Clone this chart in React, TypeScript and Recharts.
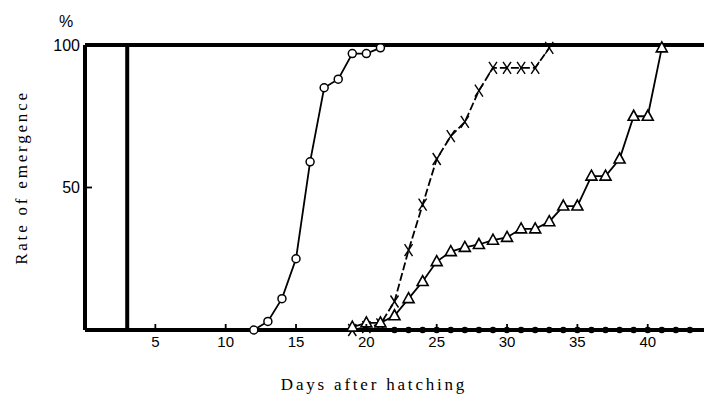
import React from "react";
import { LineChart, Line, XAxis, YAxis, ReferenceLine } from "recharts";

// ---- data ----
const xTicks = [5, 10, 15, 20, 25, 30, 35, 40];
const yTicks = [50, 100];

const circleDays = [12, 13, 14, 15, 16, 17, 18, 19, 20, 21];
const circleRate = [0, 3, 11, 25, 59, 85, 88, 97, 97, 99];

const crossDays = [19, 20, 21, 22, 23, 24, 25, 26, 27, 28, 29, 30, 31, 32, 33];
const crossRate = [0, 1, 2, 10, 28, 44, 60, 68, 73, 84, 92, 92, 92, 92, 99];

const triDays = [19, 20, 21, 22, 23, 24, 25, 26, 27, 28, 29, 30, 31, 32, 33, 34, 35, 36, 37, 38, 39, 40, 41];
const triRate = [1, 2.5, 2.5, 5, 11, 17, 24, 27.5, 29, 30, 31.5, 32.5, 35.5, 35.5, 38, 43.5, 43.5, 54, 54, 60, 75, 75, 99];

const dotDays = [22, 23, 24, 25, 26, 27, 28, 29, 30, 31, 32, 33, 34, 35, 36, 37, 38, 39, 40, 41, 42, 43];
const dotRate = dotDays.map(() => 0);

const toData = (days: number[], vals: number[]) => days.map((d, i) => ({ day: d, v: vals[i] }));
const circleData = toData(circleDays, circleRate);
const crossData = toData(crossDays, crossRate);
const triData = toData(triDays, triRate);
const dotData = toData(dotDays, dotRate);

const SANS = "'Liberation Sans', Arial, sans-serif";
const SERIF = "'Liberation Serif', 'DejaVu Serif', serif";

const CircleDot = (p: any) => {
  if (p.cx == null || p.cy == null) return null;
  return <circle cx={p.cx} cy={p.cy} r={4} fill="#fff" stroke="#000" strokeWidth={1.5} />;
};

const CrossDot = (p: any) => {
  if (p.cx == null || p.cy == null) return null;
  const { cx, cy } = p;
  return (
    <g stroke="#000" strokeWidth={1.4} fill="none">
      <line x1={cx - 4} y1={cy - 6} x2={cx + 4} y2={cy + 6} />
      <line x1={cx + 4} y1={cy - 6} x2={cx - 4} y2={cy + 6} />
    </g>
  );
};

const TriDot = (p: any) => {
  if (p.cx == null || p.cy == null) return null;
  const { cx, cy } = p;
  const pts = `${cx},${cy - 6} ${cx + 5.5},${cy + 4} ${cx - 5.5},${cy + 4}`;
  return <polygon points={pts} fill="#fff" stroke="#000" strokeWidth={1.6} strokeLinejoin="miter" />;
};

const BlackDot = (p: any) => {
  if (p.cx == null || p.cy == null) return null;
  return <circle cx={p.cx} cy={p.cy} r={3.2} fill="#000" stroke="none" />;
};

const XTick = (p: any) => {
  const { x, y, payload } = p;
  return (
    <g>
      <line x1={x} x2={x} y1={y} y2={y - 6} stroke="#000" strokeWidth={1.8} />
      <text x={x} y={y + 6} dy="0.71em" textAnchor="middle" fontFamily={SANS} fontSize={15} fill="#000">
        {payload.value}
      </text>
    </g>
  );
};

const YTick = (p: any) => {
  const { x, y, payload } = p;
  return (
    <g>
      {payload.value === 50 && <line x1={x} x2={x + 7} y1={y} y2={y} stroke="#000" strokeWidth={1.8} />}
      <text x={x - 5} y={y} dy="0.36em" textAnchor="end" fontFamily={SANS} fontSize={16} fill="#000">
        {payload.value}
      </text>
      {payload.value === 100 && (
        <text x={x - 19} y={y - 18} textAnchor="middle" fontFamily={SANS} fontSize={16} fill="#000">
          %
        </text>
      )}
    </g>
  );
};

const YLabel = (p: any) => {
  const vb = p.viewBox || {};
  const cx = 21;
  const cy = (vb.y ?? 45) + (vb.height ?? 285) / 2 - 10;
  return (
    <text
      x={cx}
      y={cy}
      transform={`rotate(-90, ${cx}, ${cy})`}
      textAnchor="middle"
      dominantBaseline="central"
      fontFamily={SERIF}
      fontSize={17}
      letterSpacing={2.8}
      fill="#000"
    >
      Rate of emergence
    </text>
  );
};

const XLabel = (p: any) => {
  const vb = p.viewBox || {};
  return (
    <text
      x={374}
      y={(vb.y ?? 330) + 60}
      textAnchor="middle"
      fontFamily={SERIF}
      fontSize={17}
      letterSpacing={2.8}
      fill="#000"
    >
      Days after hatching
    </text>
  );
};

export default function App() {
  return (
    <div style={{ width: 704, height: 397, background: "#fff" }}>
      <style>{`body{margin:0}`}</style>
      <LineChart width={704} height={397} margin={{ top: 45, right: 0, bottom: 0, left: 0 }}>
        <XAxis
          dataKey="day"
          type="number"
          domain={[0, 44]}
          ticks={xTicks}
          allowDataOverflow
          height={67}
          tickSize={0}
          tickMargin={0}
          tickLine={false}
          tick={<XTick />}
          axisLine={{ stroke: "#000", strokeWidth: 4 }}
          label={<XLabel />}
        />
        <YAxis
          type="number"
          domain={[0, 100]}
          ticks={yTicks}
          width={85}
          tickSize={0}
          tickMargin={0}
          tickLine={false}
          tick={<YTick />}
          axisLine={{ stroke: "#000", strokeWidth: 4 }}
          label={<YLabel />}
        />
        <ReferenceLine y={100} stroke="#000" strokeWidth={4} />
        <ReferenceLine x={3} stroke="#000" strokeWidth={4} />
        <Line
          data={dotData}
          dataKey="v"
          type="linear"
          stroke="#000"
          strokeWidth={2}
          dot={<BlackDot />}
          isAnimationActive={false}
        />
        <Line
          data={circleData}
          dataKey="v"
          type="linear"
          stroke="#000"
          strokeWidth={1.8}
          dot={<CircleDot />}
          isAnimationActive={false}
        />
        <Line
          data={crossData}
          dataKey="v"
          type="linear"
          stroke="#000"
          strokeWidth={1.8}
          strokeDasharray="8 3"
          dot={<CrossDot />}
          isAnimationActive={false}
        />
        <Line
          data={triData}
          dataKey="v"
          type="linear"
          stroke="#000"
          strokeWidth={1.8}
          dot={<TriDot />}
          isAnimationActive={false}
        />
      </LineChart>
    </div>
  );
}
